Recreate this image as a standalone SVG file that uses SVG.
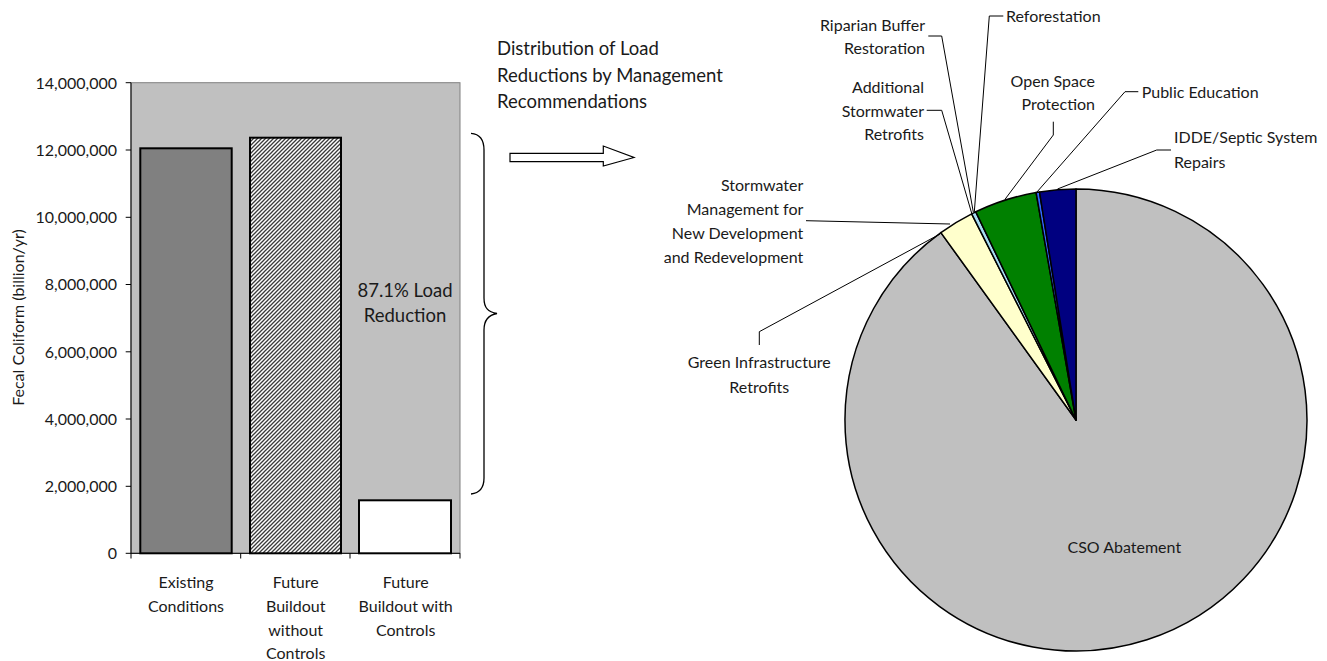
<svg xmlns="http://www.w3.org/2000/svg" width="1327" height="661" viewBox="0 0 1327 661">
<defs>
<pattern id="hatch" patternUnits="userSpaceOnUse" width="4" height="4">
<rect width="4" height="4" fill="#ffffff"/>
<path d="M-1,1 L1,-1 M0,4 L4,0 M3,5 L5,3" stroke="#3a3a3a" stroke-width="1.3"/>
</pattern>
<style>
text{font-family:Lato,"Liberation Sans",sans-serif;fill:#1a1a1a;font-size:16px}
.big{font-size:18.5px}
.e{text-anchor:end}
.m{text-anchor:middle}
.bar{stroke:#000;stroke-width:2}
.slice{stroke:#000;stroke-width:1.5;stroke-linejoin:round}
.lead{fill:none;stroke:#000;stroke-width:1}
.tick{fill:none;stroke:#000;stroke-width:1}
</style>
</defs>
<rect width="1327" height="661" fill="#ffffff"/>

<g id="bar-chart">
<rect x="131" y="82.7" width="329" height="470.6" fill="#C0C0C0" stroke="#808080" stroke-width="1"/>
<path class="tick" d="M131,82.7 V553.3 H460 M125.7,82.7 H131 M125.7,150 H131 M125.7,217.3 H131 M125.7,284.5 H131 M125.7,351.8 H131 M125.7,419 H131 M125.7,486.3 H131 M125.7,553.3 H131 M131,553.3 V558.5 M240.7,553.3 V558.5 M350,553.3 V558.5 M460,553.3 V558.5"/>
<g id="y-ticks">
<text class="e" x="117" y="88.5">14,000,000</text>
<text class="e" x="117" y="155.8">12,000,000</text>
<text class="e" x="117" y="223.1">10,000,000</text>
<text class="e" x="117" y="290.3">8,000,000</text>
<text class="e" x="117" y="357.6">6,000,000</text>
<text class="e" x="117" y="424.8">4,000,000</text>
<text class="e" x="117" y="492.1">2,000,000</text>
<text class="e" x="117" y="559.1">0</text>
</g>
<text class="m" transform="translate(23.8,317.5) rotate(-90)" x="0" y="0">Fecal Coliform (billion/yr)</text>
<g id="bar-existing">
<rect class="bar" x="140.3" y="148.3" width="91.4" height="405" fill="#808080"/>
<text class="m" x="186" y="587.5">Existing</text>
<text class="m" x="186" y="611.5">Conditions</text>
</g>
<g id="bar-future-without">
<rect class="bar" x="250" y="137.7" width="91" height="415.6" fill="url(#hatch)"/>
<text class="m" x="295.7" y="587.5">Future</text>
<text class="m" x="295.7" y="611.5">Buildout</text>
<text class="m" x="295.7" y="635.5">without</text>
<text class="m" x="295.7" y="659">Controls</text>
</g>
<g id="bar-future-with">
<rect class="bar" x="359" y="500.3" width="92" height="53" fill="#ffffff"/>
<text class="m" x="405.7" y="587.5">Future</text>
<text class="m" x="405.7" y="611.5">Buildout with</text>
<text class="m" x="405.7" y="635.5">Controls</text>
</g>
<g id="reduction-label">
<text class="m big" x="405" y="296.7">87.1% Load</text>
<text class="m big" x="405" y="322.4">Reduction</text>
</g>
</g>

<g id="brace">
<path d="M471,133.3 C480,134 484,140 484,150 L484,298 C484,308 488,312 497,313.5 C488,315 484,320 484,330 L484,478 C484,488 480,493 471,494" fill="none" stroke="#000" stroke-width="1.3"/>
</g>

<g id="block-arrow">
<polygon points="510,153.3 603.3,153.3 603.3,146 634,157.5 603.3,166 603.3,161.7 510,161.7" fill="#ffffff" stroke="#000" stroke-width="1.2" stroke-linejoin="miter"/>
</g>

<g id="pie-title">
<text class="big" x="497" y="55">Distribution of Load</text>
<text class="big" x="497" y="81.5">Reductions by Management</text>
<text class="big" x="497" y="107.8">Recommendations</text>
</g>

<g id="pie">
<path id="slice-cso" class="slice" fill="#C0C0C0" d="M1076,420 L1076,189 A231,231 0 1 1 940.9,232.6 Z"/>
<path id="slice-stormwater-new-dev" class="slice" fill="#FFFFCC" d="M1076,420 L940.9,232.6 A231,231 0 0 1 971.7,213.9 Z"/>
<path id="slice-reforestation" class="slice" fill="#A6DCF2" d="M1076,420 L971.7,213.9 A231,231 0 0 1 975.8,211.8 Z"/>
<path id="slice-open-space" class="slice" fill="#008000" d="M1076,420 L975.8,211.8 A231,231 0 0 1 1036.1,192.5 Z"/>
<path id="slice-public-education" class="slice" fill="#3366FF" d="M1076,420 L1036.1,192.5 A231,231 0 0 1 1039.5,191.9 Z"/>
<path id="slice-idde" class="slice" fill="#000080" d="M1076,420 L1039.5,191.9 A231,231 0 0 1 1076,189 Z"/>
</g>

<g id="connectors">
<path class="lead" d="M928.3,36 H941.7 L973.3,212"/>
<path class="lead" d="M1003.3,16 H989.3 L974.3,212"/>
<path class="lead" d="M926.7,110.3 H941.7 L971.7,213.3"/>
<path class="lead" d="M1053.3,121.7 V135 L1005,199.3"/>
<path class="lead" d="M1138.3,91.7 H1125 L1036.7,192.3"/>
<path class="lead" d="M1171,150 H1156.7 L1057.5,189"/>
<path class="lead" d="M806,220.7 L950,224"/>
<path class="lead" d="M759.3,345 V331.7 L940,234"/>
</g>

<g id="label-riparian">
<text class="e" x="925" y="30.8">Riparian Buffer</text>
<text class="e" x="925" y="54">Restoration</text>
</g>
<g id="label-reforestation">
<text x="1006" y="21.8">Reforestation</text>
</g>
<g id="label-additional">
<text class="e" x="924" y="93">Additional</text>
<text class="e" x="924" y="116.5">Stormwater</text>
<text class="e" x="924" y="139.8">Retrofits</text>
</g>
<g id="label-open-space">
<text class="e" x="1095" y="86.5">Open Space</text>
<text class="e" x="1095" y="110">Protection</text>
</g>
<g id="label-public-education">
<text x="1141.7" y="97.5">Public Education</text>
</g>
<g id="label-idde">
<text x="1174" y="143">IDDE/Septic System</text>
<text x="1174" y="167.5">Repairs</text>
</g>
<g id="label-stormwater-new-dev">
<text class="e" x="803.3" y="190.8">Stormwater</text>
<text class="e" x="803.3" y="214.8">Management for</text>
<text class="e" x="803.3" y="238.5">New Development</text>
<text class="e" x="803.3" y="262.5">and Redevelopment</text>
</g>
<g id="label-green-infrastructure">
<text class="m" x="759.3" y="368">Green Infrastructure</text>
<text class="m" x="759.3" y="392.5">Retrofits</text>
</g>
<g id="label-cso">
<text class="m" x="1124.3" y="552.5">CSO Abatement</text>
</g>
</svg>
